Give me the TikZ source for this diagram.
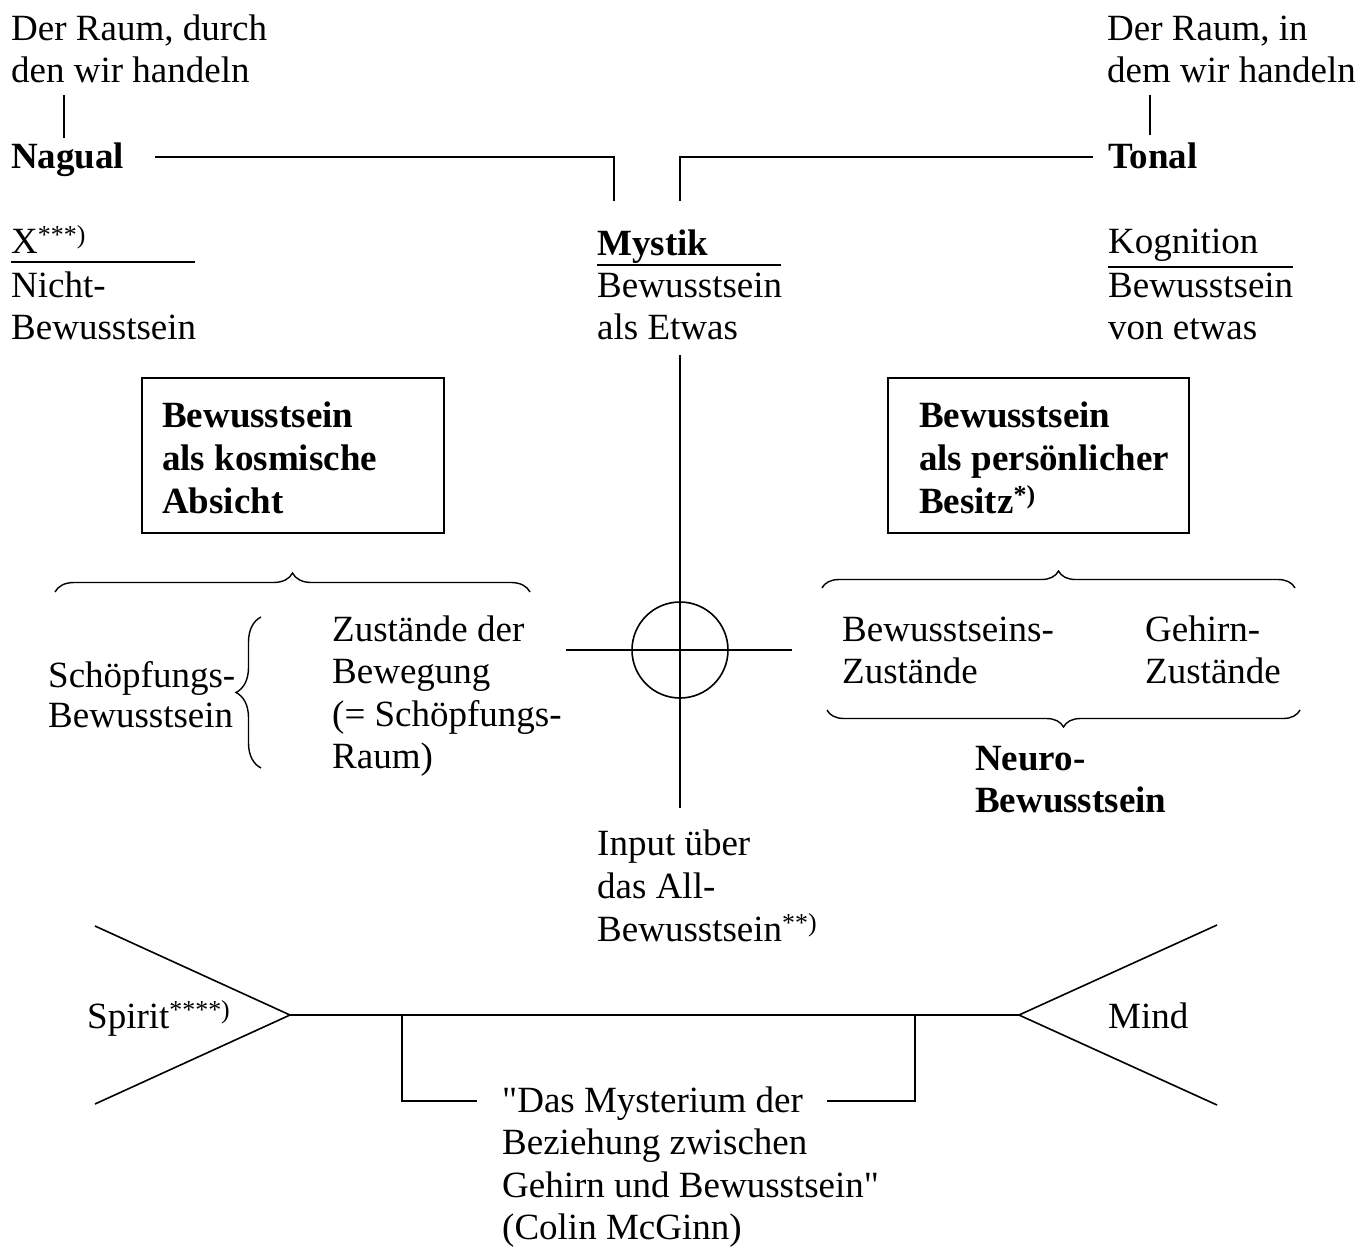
\documentclass[tikz,border=0pt]{standalone}
\usepackage{fontspec}
\setmainfont{Liberation Serif}[Ligatures=TeXOff]
\usetikzlibrary{decorations.pathreplacing}
\newcommand\bigfont{\fontsize{37}{42.5}\selectfont}
\begin{document}
\begin{tikzpicture}[x=1pt,y=-1pt,
  txt/.style={anchor=base west, inner sep=0pt, font=\bigfont},
  bld/.style={anchor=base west, inner sep=0pt, font=\bigfont\bfseries},
  ln/.style={line width=1.6pt},
  box/.style={draw, line width=1.6pt, anchor=north west, inner sep=0pt},
  brc/.style={line width=1.4pt, decorate, decoration={brace, amplitude=#1}}]
\useasboundingbox (0,0) rectangle (1362,1248);
% top texts
\node[txt] (dl1) at (11,40) {Der Raum, durch};
\node[txt] (dl2) at (11,82) {den wir handeln};
\node[bld] (nagual) at (11,168) {Nagual};
\node[txt] (dr1) at (1107,40) {Der Raum, in};
\node[txt] (dr2) at (1107,82) {dem wir handeln};
\node[bld] (tonal) at (1108,168) {Tonal};
\coordinate (tl1) at (64,95); \coordinate (tl2) at (64,138);
\coordinate (tr1) at (1150,95); \coordinate (tr2) at (1150,135);
\draw[ln] (tl1) -- (tl2);
\draw[ln] (tr1) -- (tr2);
\coordinate (na) at (155,157); \coordinate (nb) at (614,201);
\coordinate (ta) at (1093,157); \coordinate (tb) at (680,201);
\draw[ln] (na) -| (nb);
\draw[ln] (ta) -| (tb);
% three columns
\node[txt] (x) at (11,253) {X\textsuperscript{***)}};
\node[txt] (x2) at (11,297) {Nicht-};
\node[txt] (x3) at (11,339) {Bewusstsein};
\coordinate (xu1) at (11,262); \coordinate (xu2) at (195,262);
\draw[ln] (xu1) -- (xu2);
\node[bld] (mystik) at (597,255) {Mystik};
\node[txt] (m2) at (597,297) {Bewusstsein};
\node[txt] (m3) at (597,339) {als Etwas};
\coordinate (mu1) at (597,265); \coordinate (mu2) at (781,265);
\draw[ln] (mu1) -- (mu2);
\node[txt] (kog) at (1108,253) {Kognition};
\node[txt] (k2) at (1108,297) {Bewusstsein};
\node[txt] (k3) at (1108,339) {von etwas};
\coordinate (ku1) at (1108,267); \coordinate (ku2) at (1293,267);
\draw[ln] (ku1) -- (ku2);
% boxes
\node[box, minimum width=302pt, minimum height=155pt] (boxL) at (141,377) {};
\node[bld] (bl1) at (162,427) {Bewusstsein};
\node[bld] (bl2) at (162,470) {als kosmische};
\node[bld] (bl3) at (162,513) {Absicht};
\node[box, minimum width=301pt, minimum height=155pt] (boxR) at (887,377) {};
\node[bld] (br1) at (919,427) {Bewusstsein};
\node[bld] (br2) at (919,470) {als persönlicher};
\node[bld] (br3) at (919,513) {Besitz\textsuperscript{*)}};
% cross and circle
\node[draw, circle, line width=1.6pt, minimum size=96pt, inner sep=0pt] (circ) at (680,650) {};
\coordinate (v1) at (680,355); \coordinate (v2) at (680,808);
\coordinate (h1) at (566,650); \coordinate (h2) at (792,650);
\draw[ln] (v1) -- (v2);
\draw[ln] (h1) -- (h2);
% left braces and texts
\coordinate (bLa) at (55,592); \coordinate (bLb) at (530,592);
\draw[brc=19pt] (bLa) -- (bLb);
\coordinate (bVa) at (261,768); \coordinate (bVb) at (261,617);
\draw[brc=25pt] (bVa) -- (bVb);
\node[txt] (s1) at (48,687) {Schöpfungs-};
\node[txt] (s2) at (48,727) {Bewusstsein};
\node[txt] (z1) at (332,641) {Zustände der};
\node[txt] (z2) at (332,683) {Bewegung};
\node[txt] (z3) at (332,726) {(= Schöpfungs-};
\node[txt] (z4) at (332,768) {Raum)};
% right braces and texts
\coordinate (bRa) at (822,588); \coordinate (bRb) at (1295,588);
\draw[brc=17pt] (bRa) -- (bRb);
\coordinate (bBa) at (1300,710); \coordinate (bBb) at (827,710);
\draw[brc=17pt] (bBa) -- (bBb);
\node[txt] (r1) at (842,641) {Bewusstseins-};
\node[txt] (r2) at (842,683) {Zustände};
\node[txt] (g1) at (1145,641) {Gehirn-};
\node[txt] (g2) at (1145,683) {Zustände};
\node[bld] (n1) at (975,770) {Neuro-};
\node[bld] (n2) at (975,812) {Bewusstsein};
% input
\node[txt] (i1) at (597,855) {Input über};
\node[txt] (i2) at (597,898) {das All-};
\node[txt] (i3) at (597,941) {Bewusstsein\textsuperscript{**)}};
% bottom
\node[txt] (spirit) at (87,1028) {Spirit\textsuperscript{****)}};
\node[txt] (mind) at (1108,1028) {Mind};
\coordinate (sl1) at (95,926); \coordinate (sapex) at (290,1015); \coordinate (sl2) at (95,1104);
\coordinate (ml1) at (1217,925); \coordinate (mapex) at (1019,1015); \coordinate (ml2) at (1217,1105);
\draw[ln] (sl1) -- (sapex) -- (sl2);
\draw[ln] (ml1) -- (mapex) -- (ml2);
\draw[ln] (sapex) -- (mapex);
\coordinate (bk1) at (402,1015); \coordinate (bk2) at (477,1101);
\coordinate (bk3) at (915,1015); \coordinate (bk4) at (827,1101);
\draw[ln] (bk1) |- (bk2);
\draw[ln] (bk3) |- (bk4);
\node[txt] (q1) at (502,1112) {"Das Mysterium der};
\node[txt] (q2) at (502,1154) {Beziehung zwischen};
\node[txt] (q3) at (502,1197) {Gehirn und Bewusstsein"};
\node[txt] (q4) at (502,1239) {(Colin McGinn)};
\end{tikzpicture}
\end{document}
